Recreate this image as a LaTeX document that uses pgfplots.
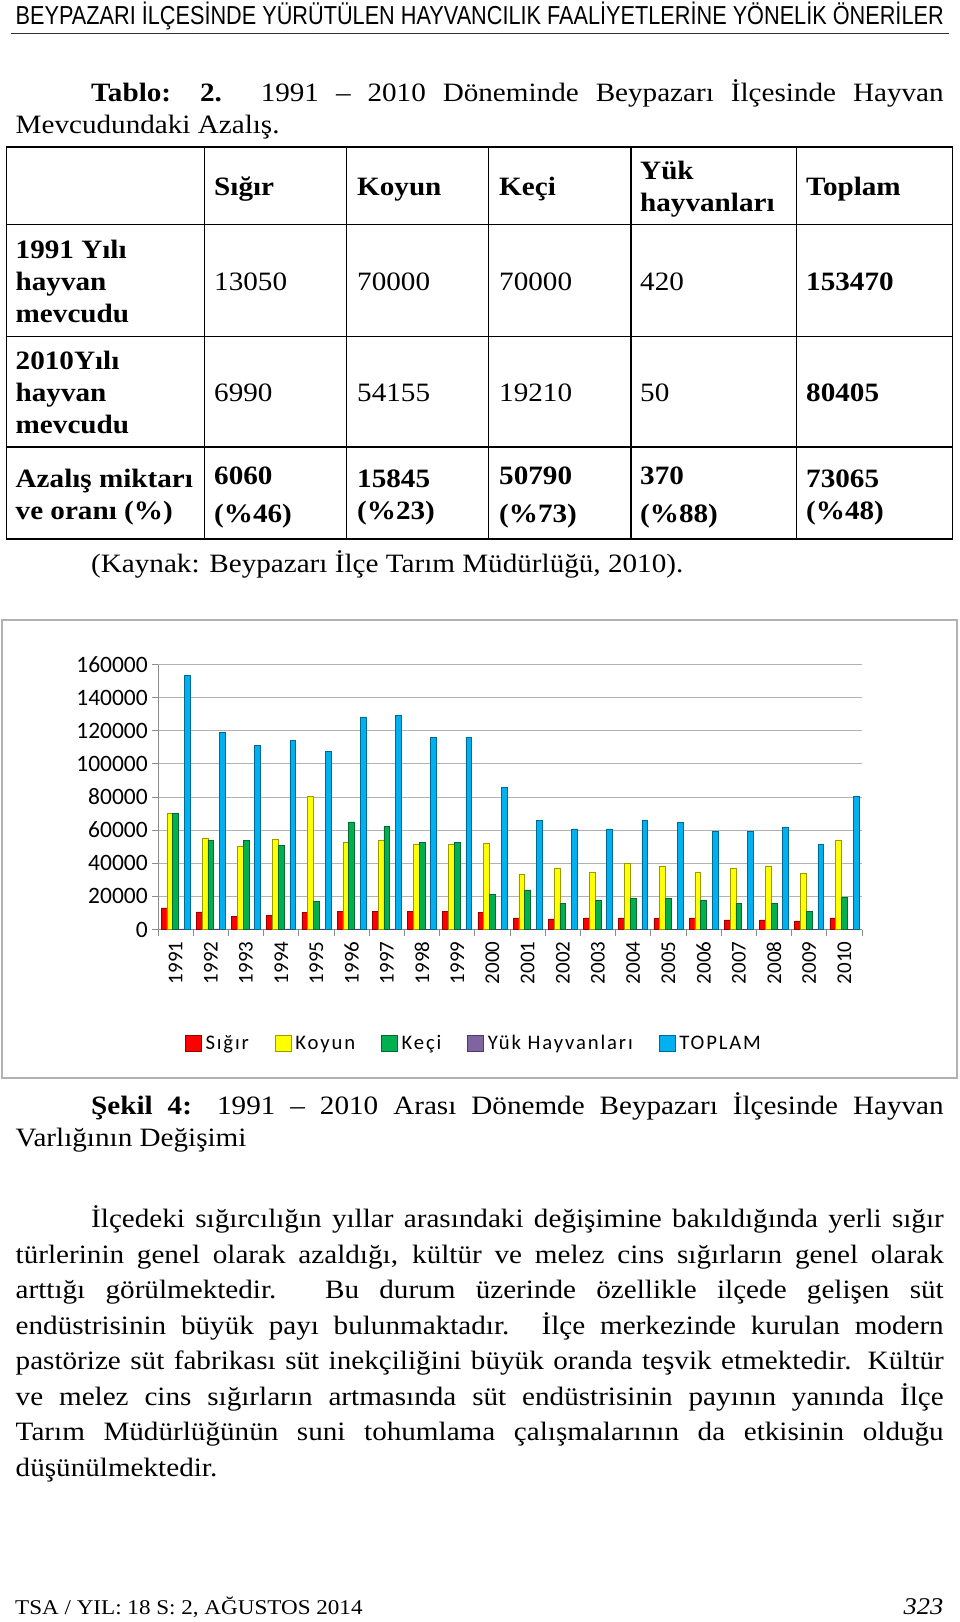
\documentclass[border=0pt]{standalone}
\usepackage{graphicx}
\usepackage{fontspec}
\usepackage{pgfplots}
\usepackage{pgfplotstable}
\pgfplotsset{compat=1.18}
\setmainfont{Liberation Serif}[FakeStretch=1.1]
\newfontfamily\headfont{Liberation Sans}
\newfontfamily\chartfont{Carlito}
\newfontfamily\legfont{Carlito}[LetterSpace=9]
\definecolor{cSig}{HTML}{FF0000}
\definecolor{cKoy}{HTML}{FFFF00}
\definecolor{cKec}{HTML}{00B050}
\definecolor{cYuk}{HTML}{8064A2}
\definecolor{cTop}{HTML}{00B0F0}
\newcommand\bodyfont{\fontsize{26.5}{32}\selectfont}
\newcommand\T[3]{\node[anchor=base west,inner sep=0pt] at (#1,#2) {#3};}
\newcommand\J[4]{\node[anchor=base west,inner sep=0pt] at (#1,#2) {\makebox[#3pt][s]{#4}};}
\pgfplotstableread{
idx Sigir Koyun Keci Yuk Toplam
0 13050 70000 70000 420 153470
1 10600 55000 53600 410 119000
2 7800 50000 53600 400 111400
3 8600 54600 51000 380 114000
4 10400 80200 17000 370 107600
5 10800 52400 65000 350 128400
6 11000 54000 62400 330 129200
7 11000 51600 52800 310 116200
8 11000 51600 52800 300 116200
9 10400 51800 21400 280 85800
10 7000 33400 24000 250 65800
11 6400 37200 16000 230 60800
12 7000 34600 17800 200 60800
13 7000 40000 18800 180 66200
14 6600 38000 18800 150 64800
15 7000 34600 17400 120 59400
16 5800 36800 16000 100 59400
17 5800 38400 16000 80 62000
18 5200 34200 10800 70 51400
19 6990 54155 19210 50 80405
}\data
\begin{document}
\begin{tikzpicture}
\begin{scope}[x=1pt,y=-1pt]
\useasboundingbox[fill=white] (0,0) rectangle (960,1622);
% header
\node[anchor=base west,inner sep=0pt] at (15.5,24.5) {\resizebox{928pt}{\height}{\headfont\fontsize{26}{30}\selectfont BEYPAZARI İLÇESİNDE YÜRÜTÜLEN HAYVANCILIK FAALİYETLERİNE YÖNELİK ÖNERİLER}};
\draw[line width=1.6pt,black!80] (11,33.5) -- (949,33.5);
\bodyfont
\J{91}{101}{852.5}{\textbf{Tablo: 2.} 1991 – 2010 Döneminde Beypazarı İlçesinde Hayvan}
\T{15.5}{133}{Mevcudundaki Azalış.}
% table
\foreach \xx in {6.2,204.8,346.6,488.3,631,796.6,952.8} \draw[line width=1.3pt] (\xx,146.9) -- (\xx,538.9);
\foreach \yy in {146.9,224.5,336.2,446.9} \draw[line width=1.3pt] (6.2,\yy) -- (952.8,\yy);
\draw[line width=2pt] (6.2,538.9) -- (952.8,538.9);
\T{214}{195.3}{\textbf{Sığır}}
\T{357}{195.3}{\textbf{Koyun}}
\T{499}{195.3}{\textbf{Keçi}}
\T{640}{179.3}{\textbf{Yük}}
\T{640}{211.3}{\textbf{hayvanları}}
\T{806}{195.3}{\textbf{Toplam}}
\T{15.5}{258}{\textbf{1991 Yılı}}
\T{15.5}{290}{\textbf{hayvan}}
\T{15.5}{322}{\textbf{mevcudu}}
\T{214}{290}{13050}
\T{357}{290}{70000}
\T{499}{290}{70000}
\T{640}{290}{420}
\T{806}{290}{\textbf{153470}}
\T{15.5}{369}{\textbf{2010Yılı}}
\T{15.5}{401}{\textbf{hayvan}}
\T{15.5}{433}{\textbf{mevcudu}}
\T{214}{401}{6990}
\T{357}{401}{54155}
\T{499}{401}{19210}
\T{640}{401}{50}
\T{806}{401}{\textbf{80405}}
\T{15.5}{487}{\textbf{Azalış miktarı}}
\T{15.5}{519}{\textbf{ve oranı (\%)}}
\T{214}{484}{\textbf{6060}}
\T{214}{522}{\textbf{(\%46)}}
\T{357}{487}{\textbf{15845}}
\T{357}{519}{\textbf{(\%23)}}
\T{499}{484}{\textbf{50790}}
\T{499}{522}{\textbf{(\%73)}}
\T{640}{484}{\textbf{370}}
\T{640}{522}{\textbf{(\%88)}}
\T{806}{487}{\textbf{73065}}
\T{806}{519}{\textbf{(\%48)}}
\T{91}{572}{(Kaynak: Beypazarı İlçe Tarım Müdürlüğü, 2010).}
% chart frame
\draw[line width=1.2pt,black!30] (2,620) rectangle (957,1078);
% caption
\J{91}{1114}{852.5}{\textbf{Şekil 4:} 1991 – 2010 Arası Dönemde Beypazarı İlçesinde Hayvan}
\T{15.5}{1146}{Varlığının Değişimi}
% paragraph
\J{91}{1227.5}{852.5}{İlçedeki sığırcılığın yıllar arasındaki değişimine bakıldığında yerli sığır}
\J{15.5}{1263}{928}{türlerinin genel olarak azaldığı, kültür ve melez cins sığırların genel olarak}
\J{15.5}{1298.5}{928}{arttığı görülmektedir. Bu durum üzerinde özellikle ilçede gelişen süt}
\J{15.5}{1334}{928}{endüstrisinin büyük payı bulunmaktadır. İlçe merkezinde kurulan modern}
\J{15.5}{1369.5}{928}{pastörize süt fabrikası süt inekçiliğini büyük oranda teşvik etmektedir. Kültür}
\J{15.5}{1405}{928}{ve melez cins sığırların artmasında süt endüstrisinin payının yanında İlçe}
\J{15.5}{1440.5}{928}{Tarım Müdürlüğünün suni tohumlama çalışmalarının da etkisinin olduğu}
\T{15.5}{1476}{düşünülmektedir.}
% footer
\node[anchor=base west,inner sep=0pt] at (15,1614) {\fontsize{21}{26}\selectfont TSA / YIL: 18 S: 2, AĞUSTOS 2014};
\node[anchor=base east,inner sep=0pt] at (943.5,1614) {\fontsize{24}{28}\selectfont\itshape 323};
\end{scope}
\begin{axis}[
  at={(158pt,-929.5pt)}, anchor=south west,
  width=704pt, height=265pt, scale only axis,
  xmin=-0.5, xmax=19.5, ymin=0, ymax=160000,
  ybar=0pt, bar width=5.8pt,
  axis lines*=left,
  axis line style={black!45, line width=0.8pt},
  ymajorgrids, grid style={black!30, line width=0.9pt},
  ytick={0,20000,...,160000},
  scaled y ticks=false,
  /pgf/number format/assume math mode=true,
  yticklabel={\pgfmathprintnumber[fixed,1000 sep={}]{\tick}},
  tick align=outside,
  major tick length=6pt, minor tick length=6pt,
  tick style={black!45, line width=0.8pt},
  xtick={0,...,19},
  xticklabels={1991,1992,1993,1994,1995,1996,1997,1998,1999,2000,2001,2002,2003,2004,2005,2006,2007,2008,2009,2010},
  major x tick style={draw=none},
  minor xtick={-0.5,0.5,...,19.5},
  y tick label style={font=\chartfont\fontsize{23.5}{25}\selectfont, anchor=east, inner sep=0pt, xshift=-4pt},
  x tick label style={font=\chartfont\fontsize{21}{23}\selectfont, rotate=90, anchor=east, inner sep=0pt, xshift=-6pt},
  legend columns=5,
  legend cell align=left,
  legend style={at={(0.0384,-0.43)}, anchor=west, draw=none, fill=none, inner sep=0pt, outer sep=0pt,
    font=\legfont\fontsize{20.7}{22}\selectfont,
    nodes={inner sep=2pt},
    /tikz/every odd column/.append style={column sep=2pt},
    /tikz/every even column/.append style={column sep=24pt}},
  mybar/.style={fill=#1, draw=#1!60!black, line width=0.5pt,
    legend image code/.code={\fill[fill=#1] (0pt,-8pt) rectangle (16pt,8pt);}},
]
\addplot[mybar=cSig] table[x=idx,y=Sigir]{\data};
\addplot[mybar=cKoy] table[x=idx,y=Koyun]{\data};
\addplot[mybar=cKec] table[x=idx,y=Keci]{\data};
\addplot[mybar=cYuk] table[x=idx,y=Yuk]{\data};
\addplot[mybar=cTop] table[x=idx,y=Toplam]{\data};
\legend{Sığır,Koyun,Keçi,Yük Hayvanları,TOPLAM}
\end{axis}
\end{tikzpicture}
\end{document}
